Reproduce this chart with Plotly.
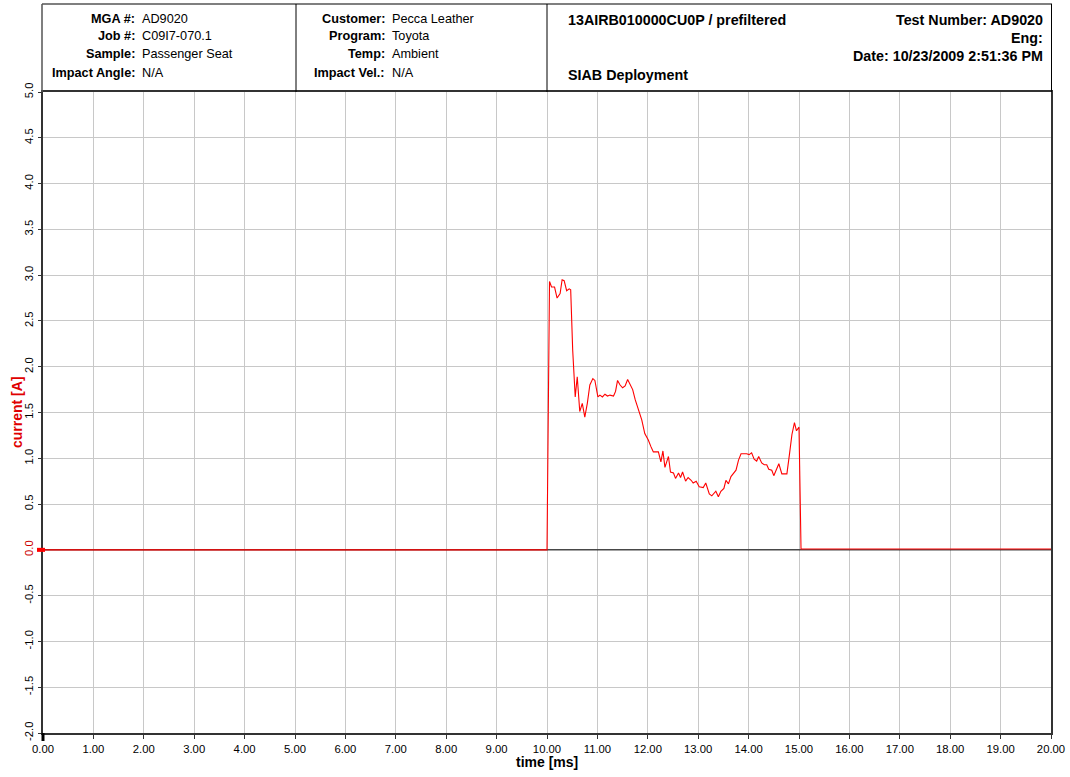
import plotly.graph_objects as go

# ---- data ----
time_ms = [0.0, 2.0, 4.0, 6.0, 8.0, 10.0,
           10.05, 10.09, 10.15, 10.20, 10.26, 10.30, 10.34, 10.39, 10.44, 10.47,
           10.51, 10.56, 10.60, 10.65, 10.70, 10.75, 10.80, 10.85, 10.91, 10.95,
           11.01, 11.05, 11.10, 11.15, 11.20, 11.25, 11.32, 11.36, 11.40, 11.45,
           11.50, 11.55, 11.60, 11.65, 11.70, 11.75, 11.81, 11.88, 11.94, 12.01,
           12.06, 12.11, 12.16, 12.21, 12.26, 12.30, 12.34, 12.41, 12.45, 12.51,
           12.55, 12.61, 12.65, 12.69, 12.75, 12.80, 12.86, 12.90, 12.96, 13.02,
           13.10, 13.15, 13.22, 13.27, 13.35, 13.40, 13.45, 13.51, 13.55, 13.60,
           13.65, 13.70, 13.75, 13.80, 13.85, 13.91, 13.96, 14.01, 14.06, 14.11,
           14.16, 14.20, 14.26, 14.31, 14.36, 14.40, 14.46, 14.50, 14.56, 14.60,
           14.66, 14.70, 14.76, 14.81, 14.86, 14.91, 14.95, 15.00, 15.04,
           16.0, 17.0, 18.0, 19.0, 20.0]
current_A = [0.0, 0.0, 0.0, 0.0, 0.0, 0.0,
             2.93, 2.87, 2.87, 2.75, 2.80, 2.95, 2.94, 2.83, 2.85, 2.84,
             2.18, 1.67, 1.89, 1.51, 1.60, 1.45, 1.60, 1.80, 1.87, 1.85,
             1.67, 1.69, 1.67, 1.70, 1.68, 1.69, 1.68, 1.73, 1.85, 1.80,
             1.77, 1.79, 1.86, 1.80, 1.75, 1.64, 1.53, 1.42, 1.27, 1.20,
             1.13, 1.07, 1.07, 1.07, 0.96, 1.08, 0.90, 1.02, 0.85, 0.84,
             0.78, 0.84, 0.79, 0.85, 0.75, 0.79, 0.76, 0.73, 0.75, 0.69,
             0.68, 0.73, 0.61, 0.59, 0.64, 0.58, 0.64, 0.67, 0.76, 0.72,
             0.80, 0.84, 0.87, 0.98, 1.05, 1.05, 1.05, 1.04, 1.06, 0.99,
             0.97, 1.02, 0.95, 0.93, 0.93, 0.88, 0.87, 0.81, 0.90, 0.94,
             0.83, 0.83, 0.83, 1.04, 1.26, 1.39, 1.30, 1.34, 0.01,
             0.01, 0.01, 0.01, 0.01, 0.01]
ref_time = [0.0, 20.0]
ref_value = [0.0, 0.0]

x_ticks = [i * 1.0 for i in range(21)]
y_ticks = [-2.0 + 0.5 * i for i in range(15)]

header_left = [("MGA #:", "AD9020"), ("Job #:", "C09I7-070.1"),
               ("Sample:", "Passenger Seat"), ("Impact Angle:", "N/A")]
header_mid = [("Customer:", "Pecca Leather"), ("Program:", "Toyota"),
              ("Temp:", "Ambient"), ("Impact Vel.:", "N/A")]
channel_title = "13AIRB010000CU0P / prefiltered"
test_title = "SIAB Deployment"
header_right = ["Test Number: AD9020", "Eng:", "Date: 10/23/2009 2:51:36 PM"]
x_title = "time [ms]"
y_title = "current [A]"

# ---- layout geometry (pixels) ----
W, H = 1070, 777
L, R, T, B = 43, 1051, 92, 733


def px(x):
    return (x - L) / (R - L)


def py(y):
    return (B - y) / (B - T)


FONT = "Liberation Sans, Arial, sans-serif"
HDR = 12.7
HDR_BIG = 14.3

fig = go.Figure()
fig.add_trace(go.Scatter(x=ref_time, y=ref_value, mode="lines",
                         line=dict(color="black", width=1), hoverinfo="skip",
                         showlegend=False))
fig.add_trace(go.Scatter(x=time_ms, y=current_A, mode="lines",
                         line=dict(color="#ff0000", width=1.1), showlegend=False))

ytext = []
for v in y_ticks:
    s = f"{v:.1f}"
    if abs(v) < 1e-9:
        s = '<span style="color:#cc0000">0.0</span>'
    ytext.append(s)

fig.update_layout(
    template="none",
    width=W, height=H,
    margin=dict(l=L, r=W - R, t=T, b=H - B, pad=0),
    paper_bgcolor="white", plot_bgcolor="white",
    font=dict(family=FONT, size=11, color="black"),
    xaxis=dict(range=[0, 20], tickvals=x_ticks,
               ticktext=[f"{v:.2f}" for v in x_ticks],
               automargin=False,
               showgrid=True, gridcolor="#c8c8c8", gridwidth=1.2,
               zeroline=False, showline=True, linecolor="#333333",
               linewidth=2, mirror=True, ticks="outside", ticklen=4,
               tickcolor="#333333", tickfont=dict(size=11.3)),
    yaxis=dict(range=[-2, 5], tickvals=y_ticks, ticktext=ytext,
               tickangle=-90, automargin=False,
               showgrid=True, gridcolor="#c8c8c8", gridwidth=1.2,
               zeroline=False, showline=True, linecolor="#333333",
               linewidth=2, mirror=True, ticks="outside", ticklen=3,
               tickcolor="#333333", tickfont=dict(size=11.3)),
)

shapes = []
line_dark = dict(color="#555555", width=1.5)
# header frame
shapes.append(dict(type="line", xref="paper", yref="paper",
                   x0=px(42), x1=px(1052), y0=py(4), y1=py(4), line=line_dark))
shapes.append(dict(type="line", xref="paper", yref="paper",
                   x0=px(42), x1=px(42), y0=py(4), y1=py(92), line=line_dark))
shapes.append(dict(type="line", xref="paper", yref="paper",
                   x0=px(1051.5), x1=px(1051.5), y0=py(4), y1=py(92),
                   line=dict(color="black", width=1)))
for xd in (296, 547):
    shapes.append(dict(type="line", xref="paper", yref="paper",
                       x0=px(xd), x1=px(xd), y0=py(4), y1=py(92),
                       line=dict(color="black", width=1)))
# small channel markers on the axes
shapes.append(dict(type="rect", xref="paper", yref="y",
                   x0=px(37), x1=px(45), y0=-0.022, y1=0.022,
                   fillcolor="#ff0000", line=dict(width=0)))
shapes.append(dict(type="rect", xref="paper", yref="paper",
                   x0=px(41.5), x1=px(44.5), y0=py(733), y1=py(741),
                   fillcolor="black", line=dict(width=0)))
fig.update_layout(shapes=shapes)

ann = []
rows_y = [18.5, 36.5, 54.5, 72.5]
for (lab, val), yy in zip(header_left, rows_y):
    ann.append(dict(x=px(137), y=py(yy), text=f"<b>{lab}</b>", xanchor="right",
                    font=dict(size=HDR)))
    ann.append(dict(x=px(140), y=py(yy), text=val, xanchor="left",
                    font=dict(size=HDR)))
for (lab, val), yy in zip(header_mid, rows_y):
    ann.append(dict(x=px(387), y=py(yy), text=f"<b>{lab}</b>", xanchor="right",
                    font=dict(size=HDR)))
    ann.append(dict(x=px(390), y=py(yy), text=val, xanchor="left",
                    font=dict(size=HDR)))
ann.append(dict(x=px(566), y=py(20), text=f"<b>{channel_title}</b>",
                xanchor="left", font=dict(size=HDR_BIG)))
ann.append(dict(x=px(566), y=py(75), text=f"<b>{test_title}</b>",
                xanchor="left", font=dict(size=HDR_BIG)))
for txt, yy in zip(header_right, [20, 38, 56.5]):
    ann.append(dict(x=px(1045), y=py(yy), text=f"<b>{txt}</b>",
                    xanchor="right", font=dict(size=HDR_BIG)))
# axis titles
ann.append(dict(x=px(547), y=py(762), text=f"<b>{x_title}</b>",
                xanchor="center", font=dict(size=14)))
ann.append(dict(x=px(17), y=py(412), text=f"<b>{y_title}</b>",
                xanchor="center", textangle=-90,
                font=dict(size=14, color="#e00000")))
for a in ann:
    a.update(xref="paper", yref="paper", yanchor="middle", showarrow=False)
fig.update_layout(annotations=ann)

fig.write_html("out.html", config={"displayModeBar": False},
               post_script="document.body.style.margin='0px';"
                           "document.body.style.padding='0px';")
